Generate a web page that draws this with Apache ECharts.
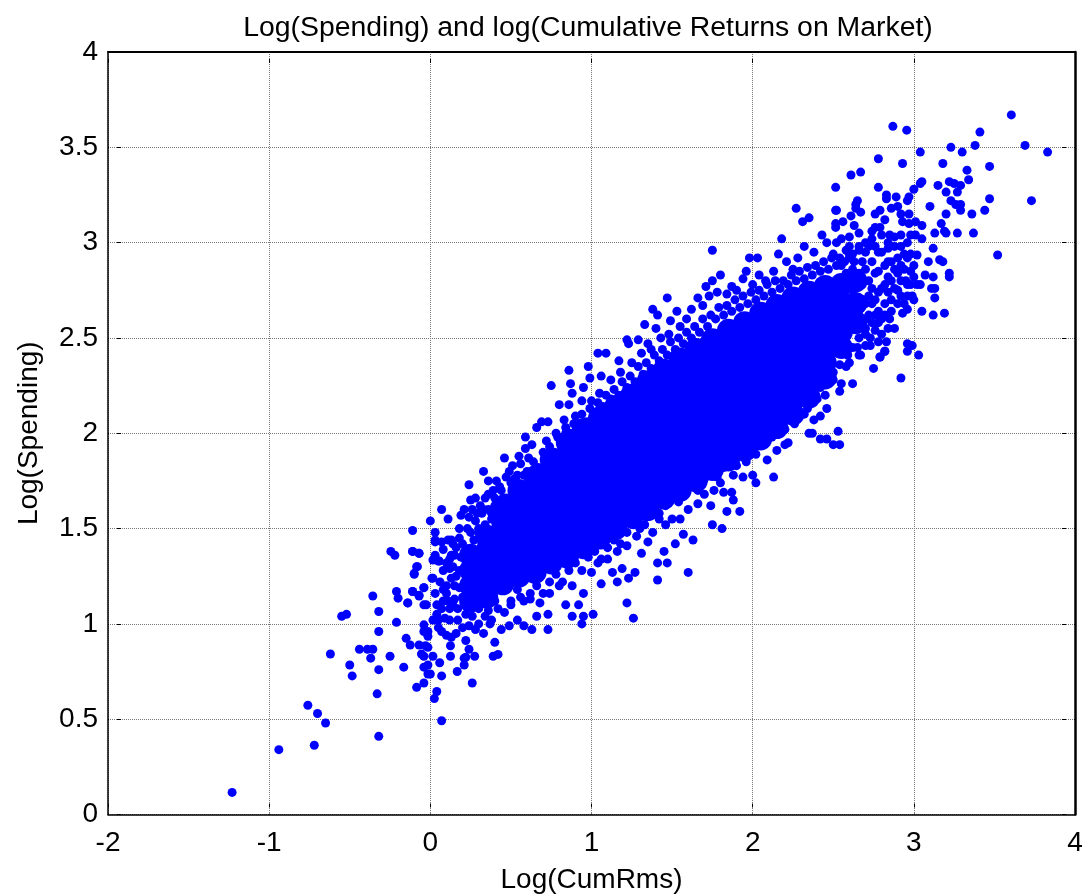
<!DOCTYPE html>
<html><head><meta charset="utf-8">
<script src="https://cdn.jsdelivr.net/npm/echarts@6/dist/echarts.min.js"></script>
<style>html,body{margin:0;padding:0;background:#fff}#c{width:1082px;height:895px}</style>
</head><body><div id="c"></div>
<script>
const titleText = "Log(Spending) and log(Cumulative Returns on Market)";
const xName = "Log(CumRms)";
const yName = "Log(Spending)";
const xRange = [-2, 4];
const yRange = [0, 4];

const lowerLeftPoints = [[-1.23,.116],[-.94,.34],[-.72,.363],[-.76,.573],[-.70,.53],[-.65,.48],[-.32,.41],[-.33,.633],[.07,.492],[.025,.608],[.04,.645],[-.62,.842],[-.50,.784],[-.485,.727],[-.44,.867],[-.39,.867],[-.357,.867],[-.37,.82],[-.32,.76],[-.25,.83],[-.165,.773],[-.15,.924],[-.125,.889],[-.07,.889],[-.03,.885],[-.015,.877],[-.055,.842],[-.04,.83],[.016,.83],[.058,.796],[-.015,.784],[-.04,.773],[-.015,.737],[0,.737],[.07,.727],[-.04,.69],[-.085,.667],[.125,.83],[.125,.885],[.167,.75],[.21,.784],[.21,.82],[.22,.825],[.24,.867],[.275,.83],[.26,.69],[.22,.913],[.40,.903],[.39,.83],[.42,.84],[-.55,1.04],[-.52,1.05],[-.32,1.065],[-.32,.96],[-.21,1.008],[-.357,1.146],[-.21,1.17],[-.2,1.135],[-.14,1.11],[-.11,1.17],[-.07,1.146],[-.04,1.19],[-.04,1.1],[-.025,1.1],[-.04,.995],[-.04,.96],[-.015,.96],[-.015,.935],[.016,1.24],[-.245,1.38],[-.22,1.36],[-.11,1.38],[-.07,1.37],[-.085,1.3],[-.1,1.265],[.016,1.335],[.03,1.36],[.055,1.33],[.03,1.43],[.016,1.02],[.04,1.05],[.03,1.16],[.04,1.1],[.05,.98],[.07,.96],[.1,.94],[.13,.93],[.16,.95],[.07,1.08],[.09,1.03],[.11,1.12],[.1,1.2],[.13,1.24],[.17,1.02],[.2,.98],[.24,.99],[.28,.97],[.33,.95],[.37,1.0],[.44,.97],[.49,.99],[.54,1.02],[.58,.99],[.63,.97],[.66,1.04],[.73,.97],[.73,1.05],[.12,1.08],[.15,1.13],[.18,1.19],[.08,1.28],[.12,1.34],[.16,1.4],[.11,1.44],[.07,1.43],[.03,1.44],[.03,1.48],[.08,1.39],[.13,1.44],[.14,1.42],[.05,1.33],[.03,1.34],[.13,1.36],[-.08,1.3],[-.1,1.26],[.12,1.29],[.01,1.24],[-.04,1.19],[-.11,1.17],[-.07,1.15],[-.14,1.11],[-.11,1.38],[-.07,1.37],[-.11,1.49],[.07,1.6],[0,1.54],[.11,1.55],[.18,1.5],[.25,1.48],[.19,1.57],[.21,1.6],[.26,1.6],[.24,1.73],[.28,1.66],[.25,1.65],[.36,1.68],[.33,1.8],[.36,1.75],[.41,1.75],[.47,1.77],
[.05,1.02],[.08,1.12],[.1,1.16],[.12,1.02],[.14,1.1],[.15,1.2],[.17,1.08],[.18,1.28],[.19,1.35],[.2,1.14],[.2,1.42],[.22,1.05],[.22,1.22],[.23,1.5],[.26,1.04],[.27,1.44],[.28,1.54],[.3,1.08],[.3,1.48],[.32,1.42],[.34,1.52],[.36,1.07],[.38,1.58],[.4,1.12],[.14,1.3],[.16,1.25],[.1,1.32],[.06,1.22],[.08,1.18],[.18,1.45],[.15,1.36],
[.31,1.62],[.34,1.66],[.39,1.7],[.43,1.72],[.45,1.66],[.49,1.8],[.52,1.76],[.56,1.84],[.58,1.78],[.24,1.56],[.29,1.58],[.33,1.6],[.4,1.62]];

const upperEdgePoints = [[.46,1.87],[.55,1.88],[.61,1.87],[.51,1.83],[.59,1.98],[.63,1.94],[.59,1.92],[.66,2.03],[.69,2.06],[.73,2.06],[.83,2.07],[.8,2.15],[.86,2.15],[.94,2.17],[.75,2.25],[.87,2.26],[.88,2.21],[.95,2.24],[.86,2.33],[.99,2.29],[1.06,2.3],[.98,2.35],[1.04,2.42],[1.09,2.42],[1.17,2.38],[1.22,2.49],[1.23,2.47],[1.29,2.49],[1.35,2.47],[1.33,2.57],[1.4,2.55],[1.49,2.59],[1.38,2.65],[1.41,2.62],[1.53,2.64],[1.47,2.71],[1.66,2.71],[1.71,2.77],[1.75,2.8],[1.8,2.83],[1.87,2.77],[1.75,2.96],[1.94,2.81],[1.96,2.85],[1.98,2.92],[2.03,2.92],[2.04,2.83],[2.16,2.94],[2.21,2.9],[2.28,2.92],[2.18,3.02],[2.27,3.18],[2.31,3.11],[2.35,3.13],[2.52,3.17],[2.43,3.04],
[.72,1.96],[.78,2.0],[.84,2.03],[.9,2.09],[1.0,2.17],[1.05,2.21],[1.12,2.28],[1.18,2.32],[1.25,2.37],[1.31,2.42],[1.37,2.44],[1.43,2.5],[1.48,2.52],[1.55,2.56],[1.59,2.6],[1.62,2.65],[1.69,2.67],[1.73,2.72],[1.78,2.74],[1.84,2.73],[1.9,2.75],[2.0,2.78],[2.08,2.8],[2.13,2.85],[2.25,2.86],[2.32,2.98],[2.38,2.95],[2.46,3.0],[2.5,2.94],[2.55,3.02],
[.3,1.5],[.32,1.58],[.36,1.6],[.38,1.55],[.4,1.66],[.42,1.6],[.44,1.7],[.47,1.66],[.5,1.74],[.52,1.7],[.54,1.78],[.57,1.72],[.6,1.8],[.62,1.76],[.64,1.85],[.67,1.82],[.7,1.9],[.72,1.86],[.74,1.93],[.77,1.9],[.79,1.98],[.82,1.94],[.84,2.0],[.87,2.0],[.89,2.05],[.92,2.02],[.94,2.1],[.97,2.06],[.99,2.13],[1.02,2.1],[1.04,2.16],[1.07,2.14],[1.09,2.2],[1.12,2.18],[1.14,2.23],[1.17,2.2],[1.19,2.27],[1.22,2.24],[1.24,2.3],[1.27,2.27],[1.29,2.35],[1.32,2.31],[1.34,2.37],[1.37,2.34],[1.39,2.41],[1.42,2.38],[1.44,2.44],[1.47,2.41],[1.49,2.48],[1.52,2.44],[1.54,2.5],[1.57,2.47],[1.59,2.53],[1.62,2.5],[1.64,2.56],[1.67,2.53],[1.69,2.6],[1.72,2.56],[1.74,2.62],[1.77,2.6],[1.79,2.66],[1.82,2.62],[1.84,2.67],[1.87,2.64],[1.89,2.7],[1.92,2.66],[1.94,2.72],[1.97,2.68],[1.99,2.74],[2.02,2.7],[2.04,2.75],[2.07,2.72],[2.09,2.78],[2.12,2.74],[2.14,2.8],[2.17,2.76],[2.19,2.8],[2.22,2.78],[2.24,2.83],[2.27,2.8],[2.29,2.85],[2.32,2.81],[2.34,2.87],[2.37,2.83],[2.39,2.88],[2.42,2.85],[2.44,2.9],[2.47,2.86],[2.49,2.92],[2.52,2.88],[2.54,2.92],[2.57,2.9],[2.6,2.94],[2.63,2.9],[2.66,2.96]];

const lowerEdgePoints = [[.84,1.1],[.88,1.04],[.92,1.1],[.95,1.16],[.95,1.04],[.94,1.0],[1.01,1.05],[1.06,1.21],[1.13,1.27],[1.16,1.22],[1.19,1.29],[1.22,1.11],[1.26,1.03],[1.23,1.24],[1.27,1.27],[1.31,1.37],[1.35,1.43],[1.41,1.23],[1.41,1.32],[1.47,1.32],[1.45,1.38],[1.5,1.55],[1.52,1.42],[1.57,1.47],[1.6,1.27],[1.63,1.44],[1.74,1.62],[1.75,1.52],[1.81,1.5],[1.82,1.69],[1.84,1.59],[1.92,1.59],[1.87,1.69],[1.88,1.65],[1.94,1.77],[2.0,1.78],[2.02,1.74],[2.13,1.77],[2.02,1.89],[2.09,1.86],[2.15,1.91],[2.2,1.94],[2.22,1.95],[2.35,2.0],[2.37,2.0],[2.42,1.97],[2.46,1.97],[2.5,1.94],[2.54,1.94],[2.53,2.01],[2.38,2.07],[2.42,2.09],[2.46,2.13],[2.54,2.22],[2.55,2.26],[2.62,2.26],[2.6,2.37],[2.66,2.41],[2.75,2.34],[2.79,2.40],[2.82,2.43],
[.5,1.12],[.56,1.14],[.62,1.13],[.68,1.11],[.74,1.16],[.8,1.2],[.88,1.2],[1.0,1.27],[1.04,1.32],[1.1,1.34],[1.16,1.38],[1.22,1.41],[1.28,1.46],[1.33,1.52],[1.38,1.48],[1.42,1.55],[1.46,1.52],[1.55,1.55],[1.6,1.6],[1.66,1.63],[1.7,1.68],[1.76,1.7],[1.8,1.74],[1.88,1.78],[1.96,1.85],[2.06,1.95],[2.12,1.98],[2.2,2.02],[2.26,2.05],[2.32,2.1],[2.4,2.18],[2.45,2.2],[2.5,2.28],[2.58,2.35],[2.65,2.45],[2.7,2.46],[2.73,2.5],
[.3,1.0],[.34,1.04],[.38,1.02],[.42,1.08],[.46,1.06],[.5,1.1],[.54,1.18],[.58,1.12],[.62,1.16],[.66,1.2],[.7,1.16],[.74,1.22],[.78,1.26],[.82,1.22],[.86,1.28],[.9,1.32],[.94,1.28],[.98,1.35],[1.02,1.38],[1.06,1.34],[1.1,1.4],[1.14,1.44],[1.18,1.42],[1.22,1.48],[1.26,1.52],[1.3,1.5],[1.34,1.56],[1.38,1.6],[1.42,1.58],[1.46,1.62],[1.5,1.66],[1.54,1.64],[1.58,1.7],[1.62,1.72],[1.66,1.7],[1.7,1.76],[1.74,1.78],[1.78,1.77],[1.82,1.82],[1.86,1.84],[1.9,1.83],[1.94,1.89],[1.98,1.9],[2.02,1.93],[2.06,1.98],[2.1,2.0],[2.14,2.02],[2.18,2.06],[2.22,2.08],[2.26,2.12],[2.3,2.16],[2.34,2.13],[2.38,2.2],[2.42,2.24],[2.46,2.27],[2.5,2.32],[2.54,2.36],[2.58,2.42],[2.62,2.45],[2.66,2.5],[2.7,2.52]];

const upperRightPoints = [[3.605,3.67],[2.87,3.61],[2.956,3.59],[3.41,3.58],[3.69,3.51],[3.38,3.51],[3.23,3.50],[3.30,3.475],[3.04,3.475],[3.83,3.475],[2.78,3.44],[2.93,3.415],[3.18,3.415],[3.47,3.40],[3.33,3.38],[3.34,3.33],[2.67,3.37],[2.61,3.355],[2.515,3.29],[2.78,3.29],[3.05,3.32],[3.04,3.31],[3.0,3.28],[3.15,3.30],[3.22,3.32],[3.25,3.31],[3.29,3.30],[3.2,3.265],[3.27,3.265],[2.83,3.25],[2.83,3.23],[2.89,3.24],[2.97,3.24],[2.96,3.22],[3.47,3.23],[3.73,3.22],[2.65,3.22],[2.64,3.2],[2.64,3.18],[2.515,3.17],[2.67,3.16],[3.1,3.19],[3.23,3.22],[3.26,3.2],[3.29,3.2],[3.29,3.17],[3.2,3.15],[3.36,3.15],[3.44,3.17],[2.86,3.18],[2.9,3.19],[2.79,3.17],[2.76,3.15],[2.92,3.15],[2.97,3.15],[2.93,3.11],[2.97,3.1],[3.01,3.11],[3.05,3.09],[3.17,3.1],[3.13,3.05],[3.19,3.06],[3.2,3.05],[3.27,3.05],[3.37,3.05],[2.515,3.1],[2.515,3.08],[2.56,3.11],[2.61,3.14],[2.63,3.09],[2.76,3.08],[2.79,3.08],[2.82,3.12],[2.98,3.04],[3.01,3.04],[3.05,3.02],[2.96,3.0],[3.12,2.97],[3.52,2.935],[3.02,2.935],[3.09,2.9],[3.16,2.91],[3.18,2.9],[3.22,2.84],[3.22,2.82],[3.12,2.82],[3.07,2.83],[3.04,2.78],[3.11,2.76],[3.13,2.76],[3.13,2.71],[2.99,2.72],[2.94,2.68],[2.93,2.63],[3.05,2.64],[3.12,2.62],[3.19,2.63],[2.96,2.47],[2.99,2.46],[2.96,2.43],[3.03,2.41],[2.79,2.4],[2.82,2.43],[2.59,2.41],[2.67,2.41],[2.83,2.48],[2.78,2.48],[2.73,2.46],[2.92,2.29],
[2.6,3.03],[2.66,3.05],[2.7,3.0],[2.74,3.02],[2.8,3.04],[2.84,3.0],[2.88,3.03],[2.92,2.98],[2.9,2.92],[2.96,2.92],[2.98,2.85],[2.95,2.8],[3.0,2.82],[2.9,2.75],[2.86,2.7],[2.82,2.62],[2.78,2.58],[2.85,2.6],[2.88,2.55],[2.8,2.52],[2.76,2.54],[2.7,2.55],[2.92,2.88],[2.58,2.96],[2.52,3.0],[2.62,2.94],[2.68,2.9],
[2.55,2.88],[2.58,2.84],[2.6,2.92],[2.62,2.75],[2.66,2.84],[2.68,2.7],[2.7,2.95],[2.72,2.62],[2.72,2.8],[2.74,2.9],[2.76,2.7],[2.78,2.85],[2.8,2.76],[2.8,2.95],[2.82,2.68],[2.84,2.82],[2.86,2.9],[2.88,2.76],[2.9,2.84],[2.92,2.72],[2.94,2.94],[2.96,2.78],[2.98,2.94],[3.0,2.88],[3.02,2.78],[3.0,2.7],[2.96,2.65],[2.86,2.64],[2.72,2.98],[2.76,2.98],[2.84,2.97],[2.66,2.98],[2.6,2.98],[2.7,2.6],[2.74,2.68],[2.78,2.64],[2.66,2.62],[2.6,2.66],[2.58,2.7],[2.78,2.95],[2.82,2.88],[2.88,2.98],[2.92,3.04],[2.85,3.04],[2.74,3.06],
[2.68,2.78],[2.7,2.86],[2.72,2.72],[2.74,2.76],[2.76,2.84],[2.78,2.74],[2.82,2.78],[2.84,2.74],[2.84,2.9],[2.86,2.8],[2.88,2.86],[2.9,2.68],[2.92,2.8],[2.94,2.86],[2.96,2.72],[2.98,2.78],[2.74,2.58],[2.76,2.62],[2.8,2.6],[2.84,2.55],[2.66,2.7],[2.64,2.76],[2.62,2.86],[2.7,2.68]];

const denseCore = [[.25,1.12],[.25,1.2],[.25,1.28],[.25,1.36],[.35,1.14],[.35,1.22],[.35,1.3],[.35,1.38],[.35,1.46],
[.45,1.21],[.45,1.29],[.45,1.37],[.45,1.45],[.45,1.53],[.45,1.6],[.55,1.25],[.55,1.33],[.55,1.41],[.55,1.49],[.55,1.57],[.55,1.65],[.55,1.7],
[.65,1.27],[.65,1.35],[.65,1.43],[.65,1.51],[.65,1.59],[.65,1.67],[.65,1.77],[.75,1.32],[.75,1.4],[.75,1.48],[.75,1.56],[.75,1.64],[.75,1.72],[.75,1.8],[.75,1.86],
[.85,1.35],[.85,1.43],[.85,1.51],[.85,1.59],[.85,1.67],[.85,1.75],[.85,1.83],[.85,1.95],[.85,1.89],[.95,1.4],[.95,1.48],[.95,1.56],[.95,1.64],[.95,1.72],[.95,1.8],[.95,1.88],[.95,2.02],[.95,1.95],
[1.05,1.45],[1.05,1.53],[1.05,1.61],[1.05,1.69],[1.05,1.77],[1.05,1.85],[1.05,1.93],[1.05,2.01],[1.05,2.08],[1.15,1.5],[1.15,1.58],[1.15,1.66],[1.15,1.74],[1.15,1.82],[1.15,1.9],[1.15,1.98],[1.15,2.06],[1.15,2.14],
[1.25,1.56],[1.25,1.64],[1.25,1.72],[1.25,1.8],[1.25,1.88],[1.25,1.96],[1.25,2.04],[1.25,2.12],[1.25,2.2],[1.35,1.6],[1.35,1.68],[1.35,1.76],[1.35,1.84],[1.35,1.92],[1.35,2.0],[1.35,2.08],[1.35,2.16],[1.35,2.22],[1.35,2.27],
[1.45,1.66],[1.45,1.74],[1.45,1.82],[1.45,1.9],[1.45,1.98],[1.45,2.06],[1.45,2.14],[1.45,2.22],[1.45,2.28],[1.45,2.33],[1.55,1.7],[1.55,1.78],[1.55,1.86],[1.55,1.94],[1.55,2.02],[1.55,2.1],[1.55,2.18],[1.55,2.26],[1.55,2.33],[1.55,2.39],
[1.65,1.75],[1.65,1.83],[1.65,1.91],[1.65,1.99],[1.65,2.07],[1.65,2.15],[1.65,2.23],[1.65,2.31],[1.65,2.38],[1.65,2.44],[1.75,1.81],[1.75,1.89],[1.75,1.97],[1.75,2.05],[1.75,2.13],[1.75,2.21],[1.75,2.29],[1.75,2.37],[1.75,2.43],[1.75,2.49],
[1.85,1.86],[1.85,1.94],[1.85,2.02],[1.85,2.1],[1.85,2.18],[1.85,2.26],[1.85,2.34],[1.85,2.42],[1.85,2.48],[1.85,2.54],[1.95,1.91],[1.95,1.99],[1.95,2.07],[1.95,2.15],[1.95,2.23],[1.95,2.31],[1.95,2.39],[1.95,2.47],[1.95,2.53],[1.95,2.58],
[2.05,1.97],[2.05,2.05],[2.05,2.13],[2.05,2.21],[2.05,2.29],[2.05,2.37],[2.05,2.45],[2.05,2.53],[2.05,2.58],[2.05,2.63],[2.15,2.03],[2.15,2.11],[2.15,2.19],[2.15,2.27],[2.15,2.35],[2.15,2.43],[2.15,2.51],[2.15,2.59],[2.15,2.67],
[2.25,2.1],[2.25,2.18],[2.25,2.26],[2.25,2.34],[2.25,2.42],[2.25,2.5],[2.25,2.58],[2.25,2.66],[2.25,2.71],[2.35,2.19],[2.35,2.27],[2.35,2.35],[2.35,2.43],[2.35,2.51],[2.35,2.59],[2.35,2.67],[2.35,2.74],
[2.45,2.29],[2.45,2.37],[2.45,2.45],[2.45,2.53],[2.45,2.61],[2.45,2.69],[2.45,2.77],[2.55,2.45],[2.55,2.53],[2.55,2.61],[2.55,2.69],[2.55,2.78],[2.64,2.58],[2.64,2.68],[2.64,2.8]];

const black = "#000", font = "Liberation Sans";
const inner = (w, len) => ({
  show: true,
  axisLine: { show: true, onZero: false, lineStyle: { color: black, width: w } },
  axisTick: { show: true, inside: true, length: len, lineStyle: { color: black, width: 1, type: [1, len - 5, 4] } },
  axisLabel: { show: false }, splitLine: { show: false }
});
const dotted = { show: true, lineStyle: { color: "#777", width: 1, type: [1, 1] } };
const labelStyle = { color: black, fontFamily: font, fontSize: 28 };
const axisNameStyle = { color: black, fontFamily: font, fontSize: 28 };

const xBase = { type: "value", min: xRange[0], max: xRange[1], interval: 1 };
const yBase = { type: "value", min: yRange[0], max: yRange[1], interval: 0.5 };

const chart = echarts.init(document.getElementById("c"), null, { renderer: "canvas" });
chart.setOption({
  animation: false,
  backgroundColor: "#fff",
  title: { text: titleText, left: 583, top: 9, textAlign: "center",
    textStyle: { color: black, fontFamily: font, fontSize: 28.4, fontWeight: "normal" } },
  grid: { left: 108, right: 7, top: 52, bottom: 80.5, containLabel: false, outerBoundsMode: "none" },
  xAxis: [
    { ...xBase, ...inner(1.5, 11), position: "bottom",
      axisLabel: { ...labelStyle, show: true, margin: 15 }, splitLine: dotted,
      name: xName, nameLocation: "middle", nameGap: 52, nameTextStyle: axisNameStyle },
    { ...xBase, ...inner(2, 11), position: "top" }
  ],
  yAxis: [
    { ...yBase, ...inner(1.5, 13), position: "left",
      axisLabel: { ...labelStyle, show: true, margin: 10 }, splitLine: dotted,
      name: yName, nameLocation: "middle", nameGap: 65, nameTextStyle: axisNameStyle },
    { ...yBase, ...inner(2.5, 13), position: "right" }
  ],
  series: [
    { type: "scatter", name: "dense", data: denseCore, symbolSize: 23, itemStyle: { color: "#0000ff", opacity: 1 }, z: 3 },
    ...[lowerLeftPoints, upperEdgePoints, lowerEdgePoints, upperRightPoints].map(d => ({
      type: "scatter", data: d, symbolSize: 9, itemStyle: { color: "#0000ff", opacity: 1 }, z: 3
    }))
  ]
});
</script></body></html>
